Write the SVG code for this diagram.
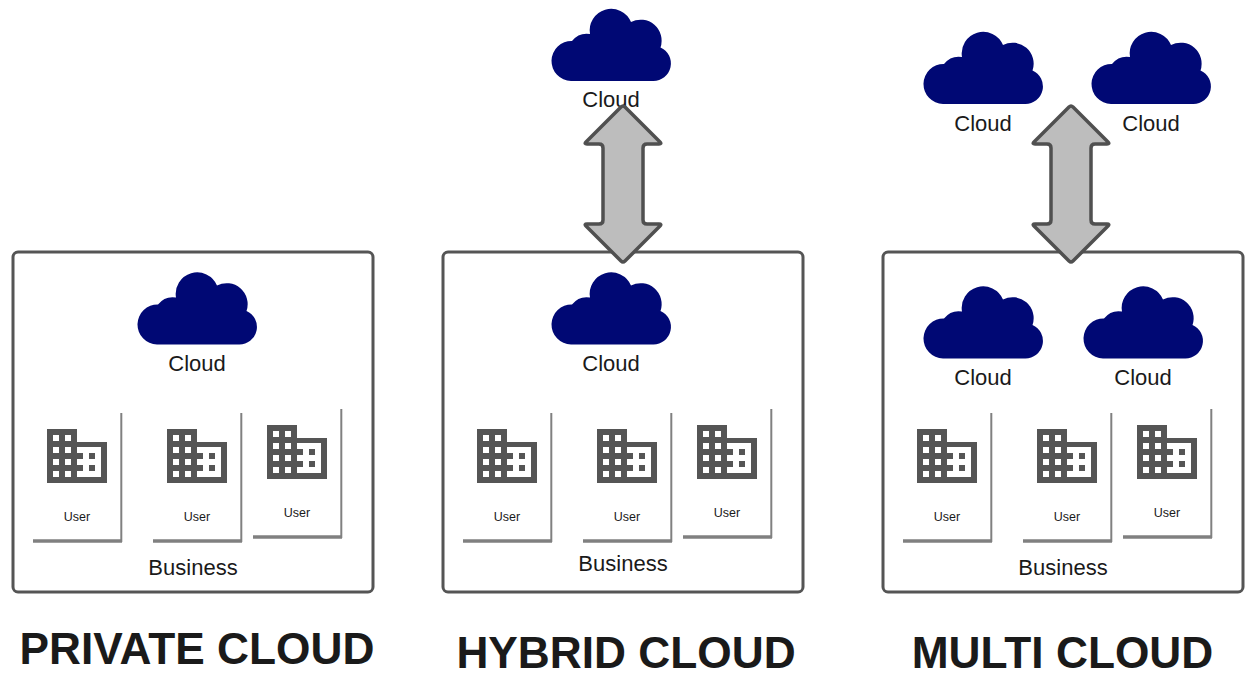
<svg xmlns="http://www.w3.org/2000/svg" width="1256" height="677" viewBox="0 0 1256 677">
<style>
text{font-family:"Liberation Sans",Arial,sans-serif;fill:#1a1a1a;text-anchor:middle}
.lbl{font-size:22px}
.usr{font-size:12.500px}
.ttl{font-size:44.250px;font-weight:bold}
.box{fill:#fff;stroke:#555;stroke-width:3}
.edge{fill:none;stroke:#808080;stroke-linecap:butt}
.arrow{fill:#bdbdbd;stroke:#505050;stroke-width:3.500px;stroke-linejoin:round}
</style>
<defs>
<path id="cloud" fill="#000874" d="M20 73H102A17.500 17.500 0 0 0 109.500 39.500A21 21 0 0 0 80 14A21.500 21.500 0 0 0 39 26A19 19 0 0 0 21 33A20 20 0 0 0 20 73Z"/>
<g id="card">
<path class="edge" stroke-width="3.400" d="M0 128H89"/>
<path class="edge" stroke-width="2" d="M88.300 129V0"/>
<path fill="#555" fill-rule="evenodd" d="M14 16H44V29H74V70H14ZM20 22V28H26V22ZM32 22V28H38V22ZM20 34V40H26V34ZM32 34V40H38V34ZM20 46V52H26V46ZM32 46V52H38V46ZM20 58V64H26V58ZM32 58V64H38V58ZM44 34V40H50V46H44V52H50V58H44V64H68V34ZM56 40H62V46H56ZM56 52H62V58H56Z"/>
</g>
<path id="arr" class="arrow" d="M-2 -77Q0 -79 2 -77L37 -42Q39 -40 36 -40H24Q20 -40 20 -36V36Q20 40 24 40H36Q39 40 37 42L2 77Q0 79 -2 77L-37 42Q-39 40 -36 40H-24Q-20 40 -20 36V-36Q-20 -40 -24 -40H-36Q-39 -40 -37 -42Z"/>
</defs>

<g id="private-business"><rect class="box" x="13" y="252" width="360" height="340" rx="5"/><text class="lbl" x="193" y="575">Business</text></g>
<g id="hybrid-business"><rect class="box" x="443" y="252" width="360" height="340" rx="5"/><text class="lbl" x="623" y="571">Business</text></g>
<g id="multi-business"><rect class="box" x="883" y="252" width="360" height="340" rx="5"/><text class="lbl" x="1063" y="575">Business</text></g>

<g id="private-cloud"><use href="#cloud" x="137" y="271.500"/><text class="lbl" x="197" y="371">Cloud</text></g>
<g id="hybrid-cloud-inner"><use href="#cloud" x="551" y="271.500"/><text class="lbl" x="611" y="371">Cloud</text></g>
<g id="hybrid-cloud-outer"><use href="#cloud" x="551" y="8"/><text class="lbl" x="611" y="107">Cloud</text></g>
<g id="multi-cloud-inner-1"><use href="#cloud" x="923" y="285.500"/><text class="lbl" x="983" y="385">Cloud</text></g>
<g id="multi-cloud-inner-2"><use href="#cloud" x="1083" y="285.500"/><text class="lbl" x="1143" y="385">Cloud</text></g>
<g id="multi-cloud-outer-1"><use href="#cloud" x="923" y="31"/><text class="lbl" x="983" y="131">Cloud</text></g>
<g id="multi-cloud-outer-2"><use href="#cloud" x="1091" y="31"/><text class="lbl" x="1151" y="131">Cloud</text></g>

<g id="user-p1"><use href="#card" x="33" y="413"/><text class="usr" x="77" y="521">User</text></g>
<g id="user-p2"><use href="#card" x="153" y="413"/><text class="usr" x="197" y="521">User</text></g>
<g id="user-p3"><use href="#card" x="253" y="409"/><text class="usr" x="297" y="517">User</text></g>
<g id="user-h1"><use href="#card" x="463" y="413"/><text class="usr" x="507" y="521">User</text></g>
<g id="user-h2"><use href="#card" x="583" y="413"/><text class="usr" x="627" y="521">User</text></g>
<g id="user-h3"><use href="#card" x="683" y="409"/><text class="usr" x="727" y="517">User</text></g>
<g id="user-m1"><use href="#card" x="903" y="413"/><text class="usr" x="947" y="521">User</text></g>
<g id="user-m2"><use href="#card" x="1023" y="413"/><text class="usr" x="1067" y="521">User</text></g>
<g id="user-m3"><use href="#card" x="1123" y="409"/><text class="usr" x="1167" y="517">User</text></g>

<g id="connectors">
<use href="#arr" x="623" y="184"/>
<use href="#arr" x="1071" y="184"/>
</g>

<g id="titles">
<text class="ttl" x="197" y="664">PRIVATE CLOUD</text>
<text class="ttl" x="626" y="668">HYBRID CLOUD</text>
<text class="ttl" x="1062.500" y="668">MULTI CLOUD</text>
</g>
</svg>
